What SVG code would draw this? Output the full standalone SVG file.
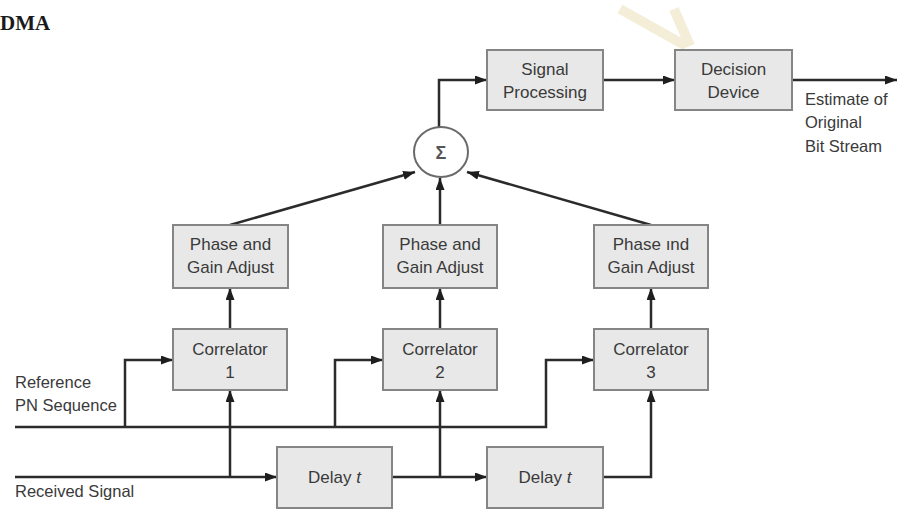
<svg xmlns="http://www.w3.org/2000/svg" width="899" height="509" viewBox="0 0 899 509">
<style>
.box{fill:#e8e8e8;stroke:#858585;stroke-width:2}
.t{font-family:"Liberation Sans",Arial,sans-serif;font-size:17px;fill:#3a3a3a;text-anchor:middle}
.l{font-family:"Liberation Sans",Arial,sans-serif;font-size:16.5px;fill:#3a3a3a}
.w{fill:none;stroke:#2b2b2b;stroke-width:2.5}
.a{marker-end:url(#ah)}
</style>
<defs>
<marker id="ah" markerUnits="userSpaceOnUse" markerWidth="13" markerHeight="10" refX="12" refY="4.5" orient="auto">
<path d="M0,0 L12,4.5 L0,9 z" fill="#1e1e1e"/>
</marker>
</defs>
<rect width="899" height="509" fill="#ffffff"/>
<g id="watermark" stroke="#f4eed8" stroke-width="10" fill="none" stroke-linecap="butt">
<path d="M620,9 L686,46"/>
<path d="M674,9 L690,46"/>
</g>
<text x="0" y="30" font-family="Liberation Serif,serif" font-weight="bold" font-size="21" fill="#1a1a1a">DMA</text>

<g id="connectors">
<path class="w a" d="M439,127 V80 H487"/>
<path class="w a" d="M603,80 H675"/>
<path class="w a" d="M792,80 H897"/>
<path class="w a" d="M230,225 L415,172"/>
<path class="w a" d="M440,225 V178"/>
<path class="w a" d="M651,225 L467,172"/>
<path class="w a" d="M230,329 V288"/>
<path class="w a" d="M440,329 V288"/>
<path class="w a" d="M651,329 V288"/>
<path class="w a" d="M15,427 H546 V360 H594"/>
<path class="w a" d="M125,427 V360 H173"/>
<path class="w a" d="M335,427 V360 H383"/>
<path class="w a" d="M15,477 H277"/>
<path class="w a" d="M230,477 V390"/>
<path class="w a" d="M392,477 H487"/>
<path class="w a" d="M440,477 V390"/>
<path class="w a" d="M603,477 H651 V390"/>
</g>

<g id="sum">
<ellipse cx="441" cy="152" rx="27" ry="25" fill="#ffffff" stroke="#6a6a6a" stroke-width="2"/>
<text x="441" y="159" class="t" style="font-size:18px;font-weight:bold;fill:#555">Σ</text>
</g>
<g id="signal-processing">
<rect class="box" x="487" y="50" width="116" height="60"/>
<text class="t" x="545" y="75">Signal</text>
<text class="t" x="545" y="98">Processing</text>
</g>
<g id="decision-device">
<rect class="box" x="675" y="50" width="117" height="60"/>
<text class="t" x="733.5" y="75">Decision</text>
<text class="t" x="733.5" y="98">Device</text>
</g>
<g id="output-label">
<text class="l" x="805" y="105">Estimate of</text>
<text class="l" x="805" y="128">Original</text>
<text class="l" x="805" y="152">Bit Stream</text>
</g>
<g id="phase1">
<rect class="box" x="173" y="225" width="115" height="63"/>
<text class="t" x="230.5" y="250">Phase and</text>
<text class="t" x="230.5" y="273">Gain Adjust</text>
</g>
<g id="phase2">
<rect class="box" x="383" y="225" width="114" height="63"/>
<text class="t" x="440" y="250">Phase and</text>
<text class="t" x="440" y="273">Gain Adjust</text>
</g>
<g id="phase3">
<rect class="box" x="594" y="225" width="114" height="63"/>
<text class="t" x="651" y="250">Phase ınd</text>
<text class="t" x="651" y="273">Gain Adjust</text>
</g>
<g id="correlator1">
<rect class="box" x="173" y="329" width="114" height="61"/>
<text class="t" x="230" y="355">Correlator</text>
<text class="t" x="230" y="378">1</text>
</g>
<g id="correlator2">
<rect class="box" x="383" y="329" width="114" height="61"/>
<text class="t" x="440" y="355">Correlator</text>
<text class="t" x="440" y="378">2</text>
</g>
<g id="correlator3">
<rect class="box" x="594" y="329" width="114" height="61"/>
<text class="t" x="651" y="355">Correlator</text>
<text class="t" x="651" y="378">3</text>
</g>
<g id="delay1">
<rect class="box" x="277" y="447" width="115" height="61"/>
<text class="t" x="334.5" y="483">Delay <tspan font-style="italic">t</tspan></text>
</g>
<g id="delay2">
<rect class="box" x="487" y="447" width="116" height="61"/>
<text class="t" x="545" y="483">Delay <tspan font-style="italic">t</tspan></text>
</g>
<g id="input-labels">
<text class="l" x="15" y="388">Reference</text>
<text class="l" x="15" y="411">PN Sequence</text>
<text class="l" x="15" y="497">Received Signal</text>
</g>
</svg>
